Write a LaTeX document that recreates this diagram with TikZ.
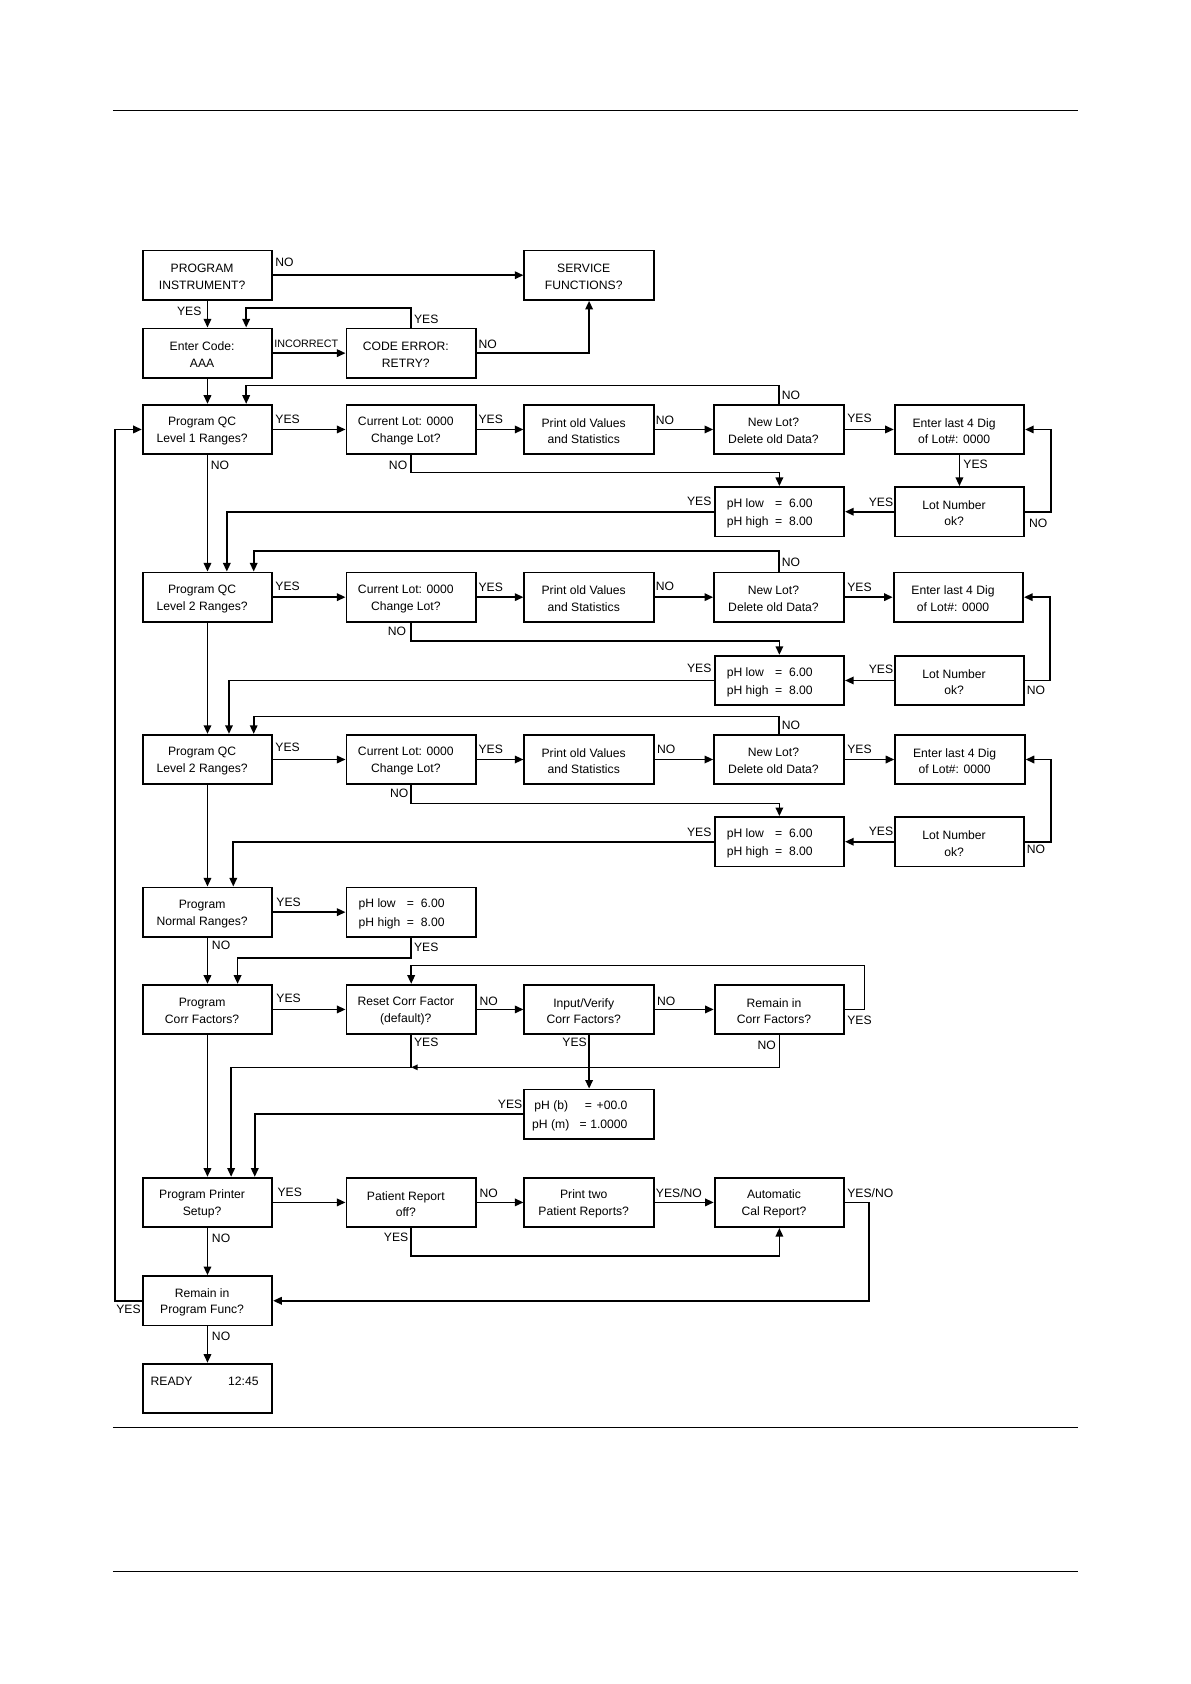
\documentclass[tikz,border=0pt]{standalone}
\usepackage{fontspec}
\setmainfont{Liberation Sans}
\usetikzlibrary{arrows.meta,calc}
\newcommand{\fs}{\fontsize{11.3}{15.5}\selectfont}
\newcommand{\fsp}{\fontsize{11.3}{17}\selectfont}
\newcommand{\mybox}[4]{\node[bx] (#1) at (#2,#3) {}; \node[tx] (#1t) at ($(#1.center)+(-5,1.5)$) {#4};}
\newcommand{\phbox}[4]{\node[bx] (#1) at (#2,#3) {}; \node[tx,anchor=west] (#1t) at ($(#1.west)+(12,1)$) {\fsp\begin{tabular}{@{}l@{\hspace{6pt}}c@{\hspace{6.4pt}}l@{}}pH low & = & #4\\ pH high & = & 8.00\end{tabular}};}
\begin{document}
\begin{tikzpicture}[x=1pt,y=-1pt,
  bx/.style={draw, line width=1.7pt, minimum width=120.5pt, minimum height=46pt, inner sep=0pt},
  tx/.style={align=center, font=\fs, inner sep=0pt},
  lb/.style={font=\fs, inner sep=0pt},
  ln/.style={line width=1.5pt},
  ar/.style={ln, -{Triangle[length=8pt,width=7pt]}},
  ars/.style={ln, -{Triangle[length=6pt,width=5pt]}},
  pg/.style={line width=0.9pt}]
\useasboundingbox (0,0) rectangle (1107,1566.5);
% page rules
\coordinate (t1) at (105,103); \coordinate (t2) at (1003,103);
\coordinate (b1) at (105,1328); \coordinate (b2) at (1003,1328);
\coordinate (c1) at (105,1462); \coordinate (c2) at (1003,1462);
\draw[pg] (t1) -- (t2);
\draw[pg] (b1) -- (b2);
\draw[pg] (c1) -- (c2);
% boxes
\mybox{pi}{193}{256}{PROGRAM\\INSTRUMENT?}
\mybox{svc}{548}{256}{SERVICE\\FUNCTIONS?}
\mybox{ec}{193}{328.5}{Enter Code:\\AAA}
\mybox{ce}{382.5}{328.5}{CODE ERROR:\\RETRY?}
% row 1
\mybox{q1}{193}{399.5}{Program QC\\Level 1 Ranges?}
\mybox{cl1}{382.5}{399.5}{Current Lot: 0000\\Change Lot?}
\mybox{po1}{548}{399.5}{Print old Values\\and Statistics}
\mybox{nl1}{724.5}{399.5}{New Lot?\\Delete old Data?}
\mybox{e1}{892.5}{399.5}{Enter last 4 Dig\\of Lot\#: 0000}
\phbox{ph1}{725}{476}{6.00}
\mybox{ln1}{892.5}{476}{Lot Number\\ok?}
% row 2
\mybox{q2}{193}{555.5}{Program QC\\Level 2 Ranges?}
\mybox{cl2}{382.5}{555.5}{Current Lot: 0000\\Change Lot?}
\mybox{po2}{548}{555.5}{Print old Values\\and Statistics}
\mybox{nl2}{724.5}{555.5}{New Lot?\\Delete old Data?}
\mybox{e2}{891.5}{555.5}{Enter last 4 Dig\\of Lot\#: 0000}
\phbox{ph2}{725}{633}{6.00}
\mybox{ln2}{892.5}{633}{Lot Number\\ok?}
% row 3
\mybox{q3}{193}{706.5}{Program QC\\Level 2 Ranges?}
\mybox{cl3}{382.5}{706.5}{Current Lot: 0000\\Change Lot?}
\mybox{po3}{548}{706.5}{Print old Values\\and Statistics}
\mybox{nl3}{724.5}{706.5}{New Lot?\\Delete old Data?}
\mybox{e3}{893}{706.5}{Enter last 4 Dig\\of Lot\#: 0000}
\phbox{ph3}{725}{783}{6.00}
\mybox{ln3}{892.5}{783}{Lot Number\\ok?}
% normal ranges
\mybox{nr}{193}{848.5}{Program\\Normal Ranges?}
\phbox{phn}{382.5}{848.5}{6.00}
% corr factors
\mybox{cf}{193}{939}{Program\\Corr Factors?}
\mybox{rc}{382.5}{939}{Reset Corr Factor\\(default)?}
\mybox{iv}{548}{939}{Input/Verify\\Corr Factors?}
\mybox{rm}{725}{939}{Remain in\\Corr Factors?}
\node[bx] (phb) at (548,1036.5) {};
\node[tx,anchor=west] (phbt) at ($(phb.west)+(8,1)$) {\fsp\begin{tabular}{@{}l@{}}\hspace*{2pt}pH (b)\hspace{15.6pt}=\hspace{4.4pt}+00.0\\ pH (m)\hspace{9.5pt}=\hspace{3.4pt}1.0000\end{tabular}};
% printer
\mybox{pp}{193}{1118.5}{Program Printer\\Setup?}
\mybox{pr}{382.5}{1118.5}{Patient Report\\off?}
\mybox{pt}{548}{1118.5}{Print two\\Patient Reports?}
\mybox{ac}{725}{1118.5}{Automatic\\Cal Report?}
\mybox{rp}{193}{1210}{Remain in\\Program Func?}
\node[bx] (rd) at (193,1291.5) {};
\node[lb,anchor=west] (rdt1) at (140,1285) {READY};
\node[lb,anchor=west] (rdt2) at (212,1285) {12:45};
% connectors top
\draw[ar] (pi.east) -- (pi.east -| svc.west);
\draw[ar] (pi) -- (ec);
\draw[ar] (ec) -- (ce);
\draw[ar] (ce.north) -- ++(0,-18) -| ($(ec.north)+(36,0)$);
\draw[ar] (ce.east) -| (svc.south);
\draw[ar] (ec) -- (q1);
% row 1
\draw[ar] (nl1.north) -- ++(0,-17) -| ($(q1.north)+(36,0)$);
\draw[ar] (q1) -- (cl1);
\draw[ar] (cl1) -- (po1);
\draw[ar] (po1) -- (nl1);
\draw[ar] (nl1) -- (e1);
\draw[ar] (e1) -- (ln1);
\draw[ar] (ln1.east) -- ++(24,0) |- (e1.east);
\draw[ar] (ln1) -- (ph1);
\draw[ar] (cl1.south) -- ++(0,16) -| (ph1.north);
\draw[ar] (ph1.west) -| ($(q2.north)+(18,0)$);
\draw[ar] (q1) -- (q2);
% row 2
\draw[ar] (nl2.north) -- ++(0,-19) -| ($(q2.north)+(43,0)$);
\draw[ar] (q2) -- (cl2);
\draw[ar] (cl2) -- (po2);
\draw[ar] (po2) -- (nl2);
\draw[ar] (nl2) -- (e2);
\draw[ar] (ln2.east) -- ++(23,0) |- (e2.east);
\draw[ar] (ln2) -- (ph2);
\draw[ar] (cl2.south) -- ++(0,17) -| (ph2.north);
\draw[ar] (ph2.west) -| ($(q3.north)+(20,0)$);
\draw[ar] (q2) -- (q3);
% row 3
\draw[ar] (nl3.north) -- ++(0,-16) -| ($(q3.north)+(43,0)$);
\draw[ar] (q3) -- (cl3);
\draw[ar] (cl3) -- (po3);
\draw[ar] (po3) -- (nl3);
\draw[ar] (nl3) -- (e3);
\draw[ar] (ln3.east) -- ++(24,0) |- (e3.east);
\draw[ar] (ln3) -- (ph3);
\draw[ar] (cl3.south) -- ++(0,17) -| (ph3.north);
\draw[ar] (ph3.west) -| ($(nr.north)+(24,0)$);
\draw[ar] (q3) -- (nr);
% normal
\draw[ar] (nr) -- (phn);
\draw[ar] (nr) -- (cf);
\draw[ar] (phn.south) -- ++(0,19) -| ($(cf.north)+(28,0)$);
% corr
\draw[ar] (cf) -- (rc);
\draw[ar] (rc) -- (iv);
\draw[ar] (iv) -- (rm);
\draw[ar] (rm.east) -- ++(18,0) -- ++(0,-41) -| (rc.north);
\coordinate (jn) at ($(rc.south)+(0,30)$);
\draw[ars] (rm.south) |- (jn);
\draw[ar] (rc.south) -- (jn) -| ($(pp.north)+(22,0)$);
\draw[ar] (iv) -- (phb);
\draw[ar] (phb.west) -| ($(pp.north)+(44,0)$);
\draw[ar] (cf) -- (pp);
% printer
\draw[ar] (pp) -- (pr);
\draw[ar] (pr) -- (pt);
\draw[ar] (pt) -- (ac);
\draw[ar] (ac.east) -- ++(22,0) |- (rp.east);
\draw[ar] (pr.south) -- ++(0,26) -| (ac.south);
\draw[ar] (pp) -- (rp);
\draw[ar] (rp.west) -- ++(-25,0) |- (q1.west);
\draw[ar] (rp) -- (rd);
% labels
\node[lb,anchor=west] (l01) at (256,244) {NO};
\node[lb] (l02) at (176,290) {YES};
\node[lb,anchor=west,font=\fontsize{10}{12}\selectfont] (l03) at (255,320) {INCORRECT};
\node[lb,anchor=west] (l04) at (385,297) {YES};
\node[lb,anchor=west] (l05) at (445,320) {NO};
\node[lb,anchor=west] (l06) at (727,368) {NO};
\node[lb,anchor=west] (l07) at (256,390) {YES};
\node[lb,anchor=west] (l08) at (445,390) {YES};
\node[lb,anchor=west] (l09) at (610,391) {NO};
\node[lb,anchor=west] (l10) at (788,389) {YES};
\node[lb,anchor=west] (l11) at (896,432) {YES};
\node[lb,anchor=west] (l12) at (957,487) {NO};
\node[lb,anchor=east] (l13) at (831,467) {YES};
\node[lb,anchor=east] (l14) at (379,433) {NO};
\node[lb,anchor=east] (l15) at (662,466) {YES};
\node[lb,anchor=west] (l16) at (196,433) {NO};
\node[lb,anchor=west] (l17) at (727,523) {NO};
\node[lb,anchor=west] (l18) at (256,545) {YES};
\node[lb,anchor=west] (l19) at (445,546) {YES};
\node[lb,anchor=west] (l20) at (610,545) {NO};
\node[lb,anchor=west] (l21) at (788,546) {YES};
\node[lb,anchor=east] (l22) at (831,623) {YES};
\node[lb,anchor=west] (l23) at (955,642) {NO};
\node[lb,anchor=east] (l24) at (378,587) {NO};
\node[lb,anchor=east] (l25) at (662,622) {YES};
\node[lb,anchor=west] (l26) at (727,675) {NO};
\node[lb,anchor=west] (l27) at (256,695) {YES};
\node[lb,anchor=west] (l28) at (445,697) {YES};
\node[lb,anchor=west] (l29) at (611,697) {NO};
\node[lb,anchor=west] (l30) at (788,697) {YES};
\node[lb,anchor=east] (l31) at (831,773) {YES};
\node[lb,anchor=west] (l32) at (955,790) {NO};
\node[lb,anchor=east] (l33) at (380,738) {NO};
\node[lb,anchor=east] (l34) at (662,774) {YES};
\node[lb,anchor=west] (l35) at (257,839) {YES};
\node[lb,anchor=west] (l36) at (197,879) {NO};
\node[lb,anchor=west] (l37) at (385,881) {YES};
\node[lb,anchor=west] (l38) at (257,929) {YES};
\node[lb,anchor=west] (l39) at (446,931) {NO};
\node[lb,anchor=west] (l40) at (611,931) {NO};
\node[lb,anchor=west] (l41) at (788,949) {YES};
\node[lb,anchor=east] (l42) at (722,972) {NO};
\node[lb,anchor=west] (l43) at (385,970) {YES};
\node[lb,anchor=east] (l44) at (546,970) {YES};
\node[lb,anchor=east] (l45) at (486,1027) {YES};
\node[lb,anchor=west] (l46) at (258,1109) {YES};
\node[lb,anchor=west] (l47) at (446,1110) {NO};
\node[lb,anchor=west] (l48) at (610,1110) {YES/NO};
\node[lb,anchor=west] (l49) at (788,1110) {YES/NO};
\node[lb,anchor=east] (l50) at (380,1151) {YES};
\node[lb,anchor=west] (l51) at (197,1152) {NO};
\node[lb,anchor=east] (l52) at (131,1218) {YES};
\node[lb,anchor=west] (l53) at (197,1243) {NO};
\end{tikzpicture}
\end{document}
